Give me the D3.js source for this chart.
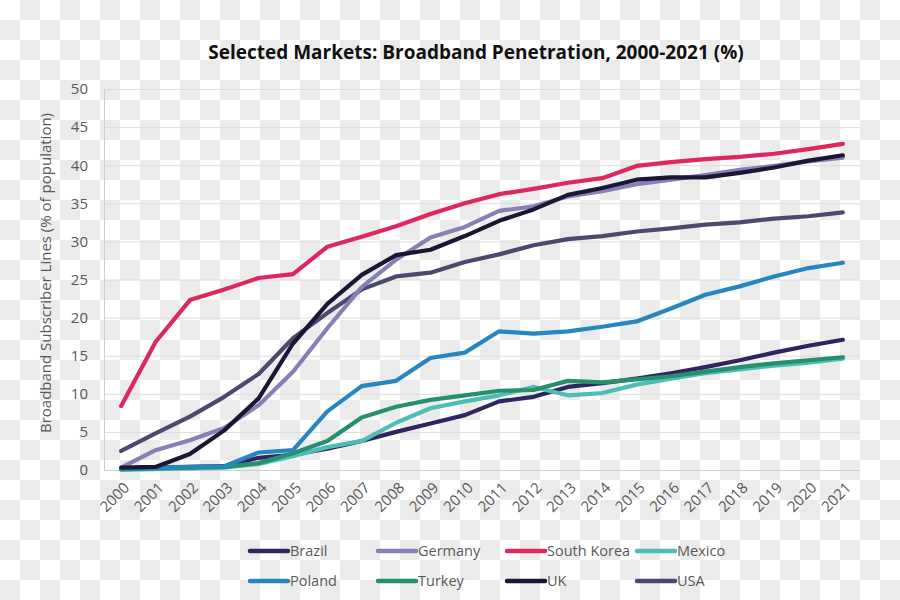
<!DOCTYPE html>
<html>
<head>
<meta charset="utf-8">
<script src="https://cdn.jsdelivr.net/npm/d3@7/dist/d3.min.js"></script>
<style>
  html, body { margin: 0; padding: 0; background: #ffffff; }
  svg { display: block; }
  text { font-family: "Open Sans", "Noto Sans", sans-serif; }
</style>
</head>
<body>
<svg id="chart" width="900" height="600"></svg>
<script>
const years = ["2000","2001","2002","2003","2004","2005","2006","2007","2008","2009","2010",
               "2011","2012","2013","2014","2015","2016","2017","2018","2019","2020","2021"];
const yTicks = [0,5,10,15,20,25,30,35,40,45,50];

const brazil     = [0.1,0.3,0.4,0.5,1.6,2.0,2.8,3.8,5.0,6.1,7.2,9.0,9.6,10.9,11.4,12.0,12.7,13.5,14.4,15.4,16.3,17.1];
const germany    = [0.3,2.6,3.9,5.5,8.5,12.9,18.6,24.0,27.6,30.5,31.9,34.0,34.6,35.9,36.6,37.5,38.1,38.7,39.4,39.9,40.5,41.0];
const southKorea = [8.4,16.8,22.3,23.7,25.2,25.7,29.3,30.6,32.0,33.6,35.0,36.2,36.9,37.7,38.3,39.9,40.4,40.8,41.1,41.5,42.1,42.8];
const mexico     = [0.0,0.1,0.2,0.3,0.8,1.8,3.0,3.8,6.2,8.1,9.0,9.8,10.9,9.8,10.1,11.2,12.0,12.7,13.2,13.7,14.1,14.6];
const poland     = [0.2,0.3,0.4,0.5,2.3,2.6,7.7,11.0,11.7,14.7,15.4,18.2,17.9,18.2,18.8,19.5,21.2,23.0,24.1,25.4,26.5,27.2];
const turkey     = [0.1,0.2,0.3,0.4,0.9,2.2,3.8,6.9,8.3,9.2,9.8,10.4,10.5,11.7,11.5,11.9,12.3,12.9,13.5,14.0,14.4,14.8];
const uk         = [0.3,0.4,2.1,5.2,9.4,16.6,21.8,25.6,28.2,28.9,30.7,32.7,34.2,36.1,37.0,38.1,38.4,38.4,39.0,39.7,40.6,41.3];
const usa        = [2.5,4.8,7.0,9.6,12.6,17.3,20.6,23.7,25.4,25.9,27.3,28.3,29.5,30.3,30.7,31.3,31.7,32.2,32.5,33.0,33.3,33.8];

const seriesNames  = ["Brazil","Germany","South Korea","Mexico","Poland","Turkey","UK","USA"];
const seriesValues = [brazil, germany, southKorea, mexico, poland, turkey, uk, usa];
const seriesColors = ["#2e2561","#8580b6","#de275d","#4dbdb6","#2586c1","#24906d","#1b1634","#4a4970"];
// draw order (back to front)
const drawOrder = ["Brazil","Mexico","Turkey","Poland","USA","Germany","UK","South Korea"];

const svg = d3.select("#chart");

// checkerboard background (as in the reference image)
const defs = svg.append("defs");
const pat = defs.append("pattern").attr("id","checker").attr("patternUnits","userSpaceOnUse")
  .attr("width",40).attr("height",40);
pat.append("rect").attr("width",40).attr("height",40).attr("fill","#ffffff");
pat.append("rect").attr("x",20).attr("y",0).attr("width",20).attr("height",20).attr("fill","#ebebeb");
pat.append("rect").attr("x",0).attr("y",20).attr("width",20).attr("height",20).attr("fill","#ebebeb");
svg.append("rect").attr("width",900).attr("height",600).attr("fill","url(#checker)");

const plot = {left:104, right:860, top:89, bottom:470};

const x = d3.scalePoint().domain(years).range([plot.left, plot.right]).padding(0.5);
const y = d3.scaleLinear().domain([0,50]).range([plot.bottom, plot.top]);

// title
svg.append("text").attr("x",476).attr("y",59).attr("text-anchor","middle")
  .attr("font-size",19).attr("font-weight","bold").attr("fill","#111")
  .text("Selected Markets: Broadband Penetration, 2000-2021 (%)");

// gridlines
const grid = svg.append("g").attr("transform",`translate(${plot.left},0)`)
  .call(d3.axisLeft(y).tickValues(yTicks).tickSize(-(plot.right-plot.left)).tickFormat(""));
grid.select(".domain").remove();
grid.selectAll("line").attr("stroke","#dcdcdc").attr("stroke-width",1);

// y axis labels
const yAxis = svg.append("g").attr("transform",`translate(${plot.left},0)`)
  .call(d3.axisLeft(y).tickValues(yTicks).tickSize(0).tickPadding(16));
yAxis.select(".domain").attr("stroke","#cfcfcf");
yAxis.selectAll("text").attr("font-size",15).attr("fill","#595959")
  .style("font-family","'Open Sans', sans-serif");

// x axis
const xAxis = svg.append("g").attr("transform",`translate(0,${plot.bottom})`)
  .call(d3.axisBottom(x).tickSize(0).tickPadding(0));
xAxis.select(".domain").attr("stroke","#cfcfcf").attr("d",`M${plot.left},0.5H${plot.right}`);
xAxis.selectAll("text")
  .attr("font-size",15).attr("fill","#595959")
  .style("font-family","'Open Sans', sans-serif")
  .attr("text-anchor","end")
  .attr("dy","0.35em")
  .attr("transform","translate(5,15) rotate(-45)");

// y axis title
svg.append("text")
  .attr("transform","translate(51,273) rotate(-90)")
  .attr("text-anchor","middle").attr("font-size",15).attr("fill","#595959")
  .text("Broadband Subscriber Lines (% of population)");

// lines
const line = d3.line().x((d,i)=>x(years[i])).y(d=>y(d));
drawOrder.forEach(name=>{
  const idx = seriesNames.indexOf(name);
  svg.append("path").datum(seriesValues[idx])
    .attr("fill","none").attr("stroke",seriesColors[idx])
    .attr("stroke-width",4.2).attr("stroke-linejoin","round").attr("stroke-linecap","round")
    .attr("d",line);
});

// legend
const legX = [250,378,507,637];
const legY = [551,581];
seriesNames.forEach((name,i)=>{
  const cx = legX[i%4], cy = legY[Math.floor(i/4)];
  const g = svg.append("g");
  g.append("line").attr("x1",cx).attr("x2",cx+38).attr("y1",cy).attr("y2",cy)
    .attr("stroke",seriesColors[i]).attr("stroke-width",4.5).attr("stroke-linecap","round");
  g.append("text").attr("x",cx+40).attr("y",cy).attr("dy","0.35em")
    .attr("font-size",14.5).attr("fill","#595959").text(name);
});
</script>
</body>
</html>
